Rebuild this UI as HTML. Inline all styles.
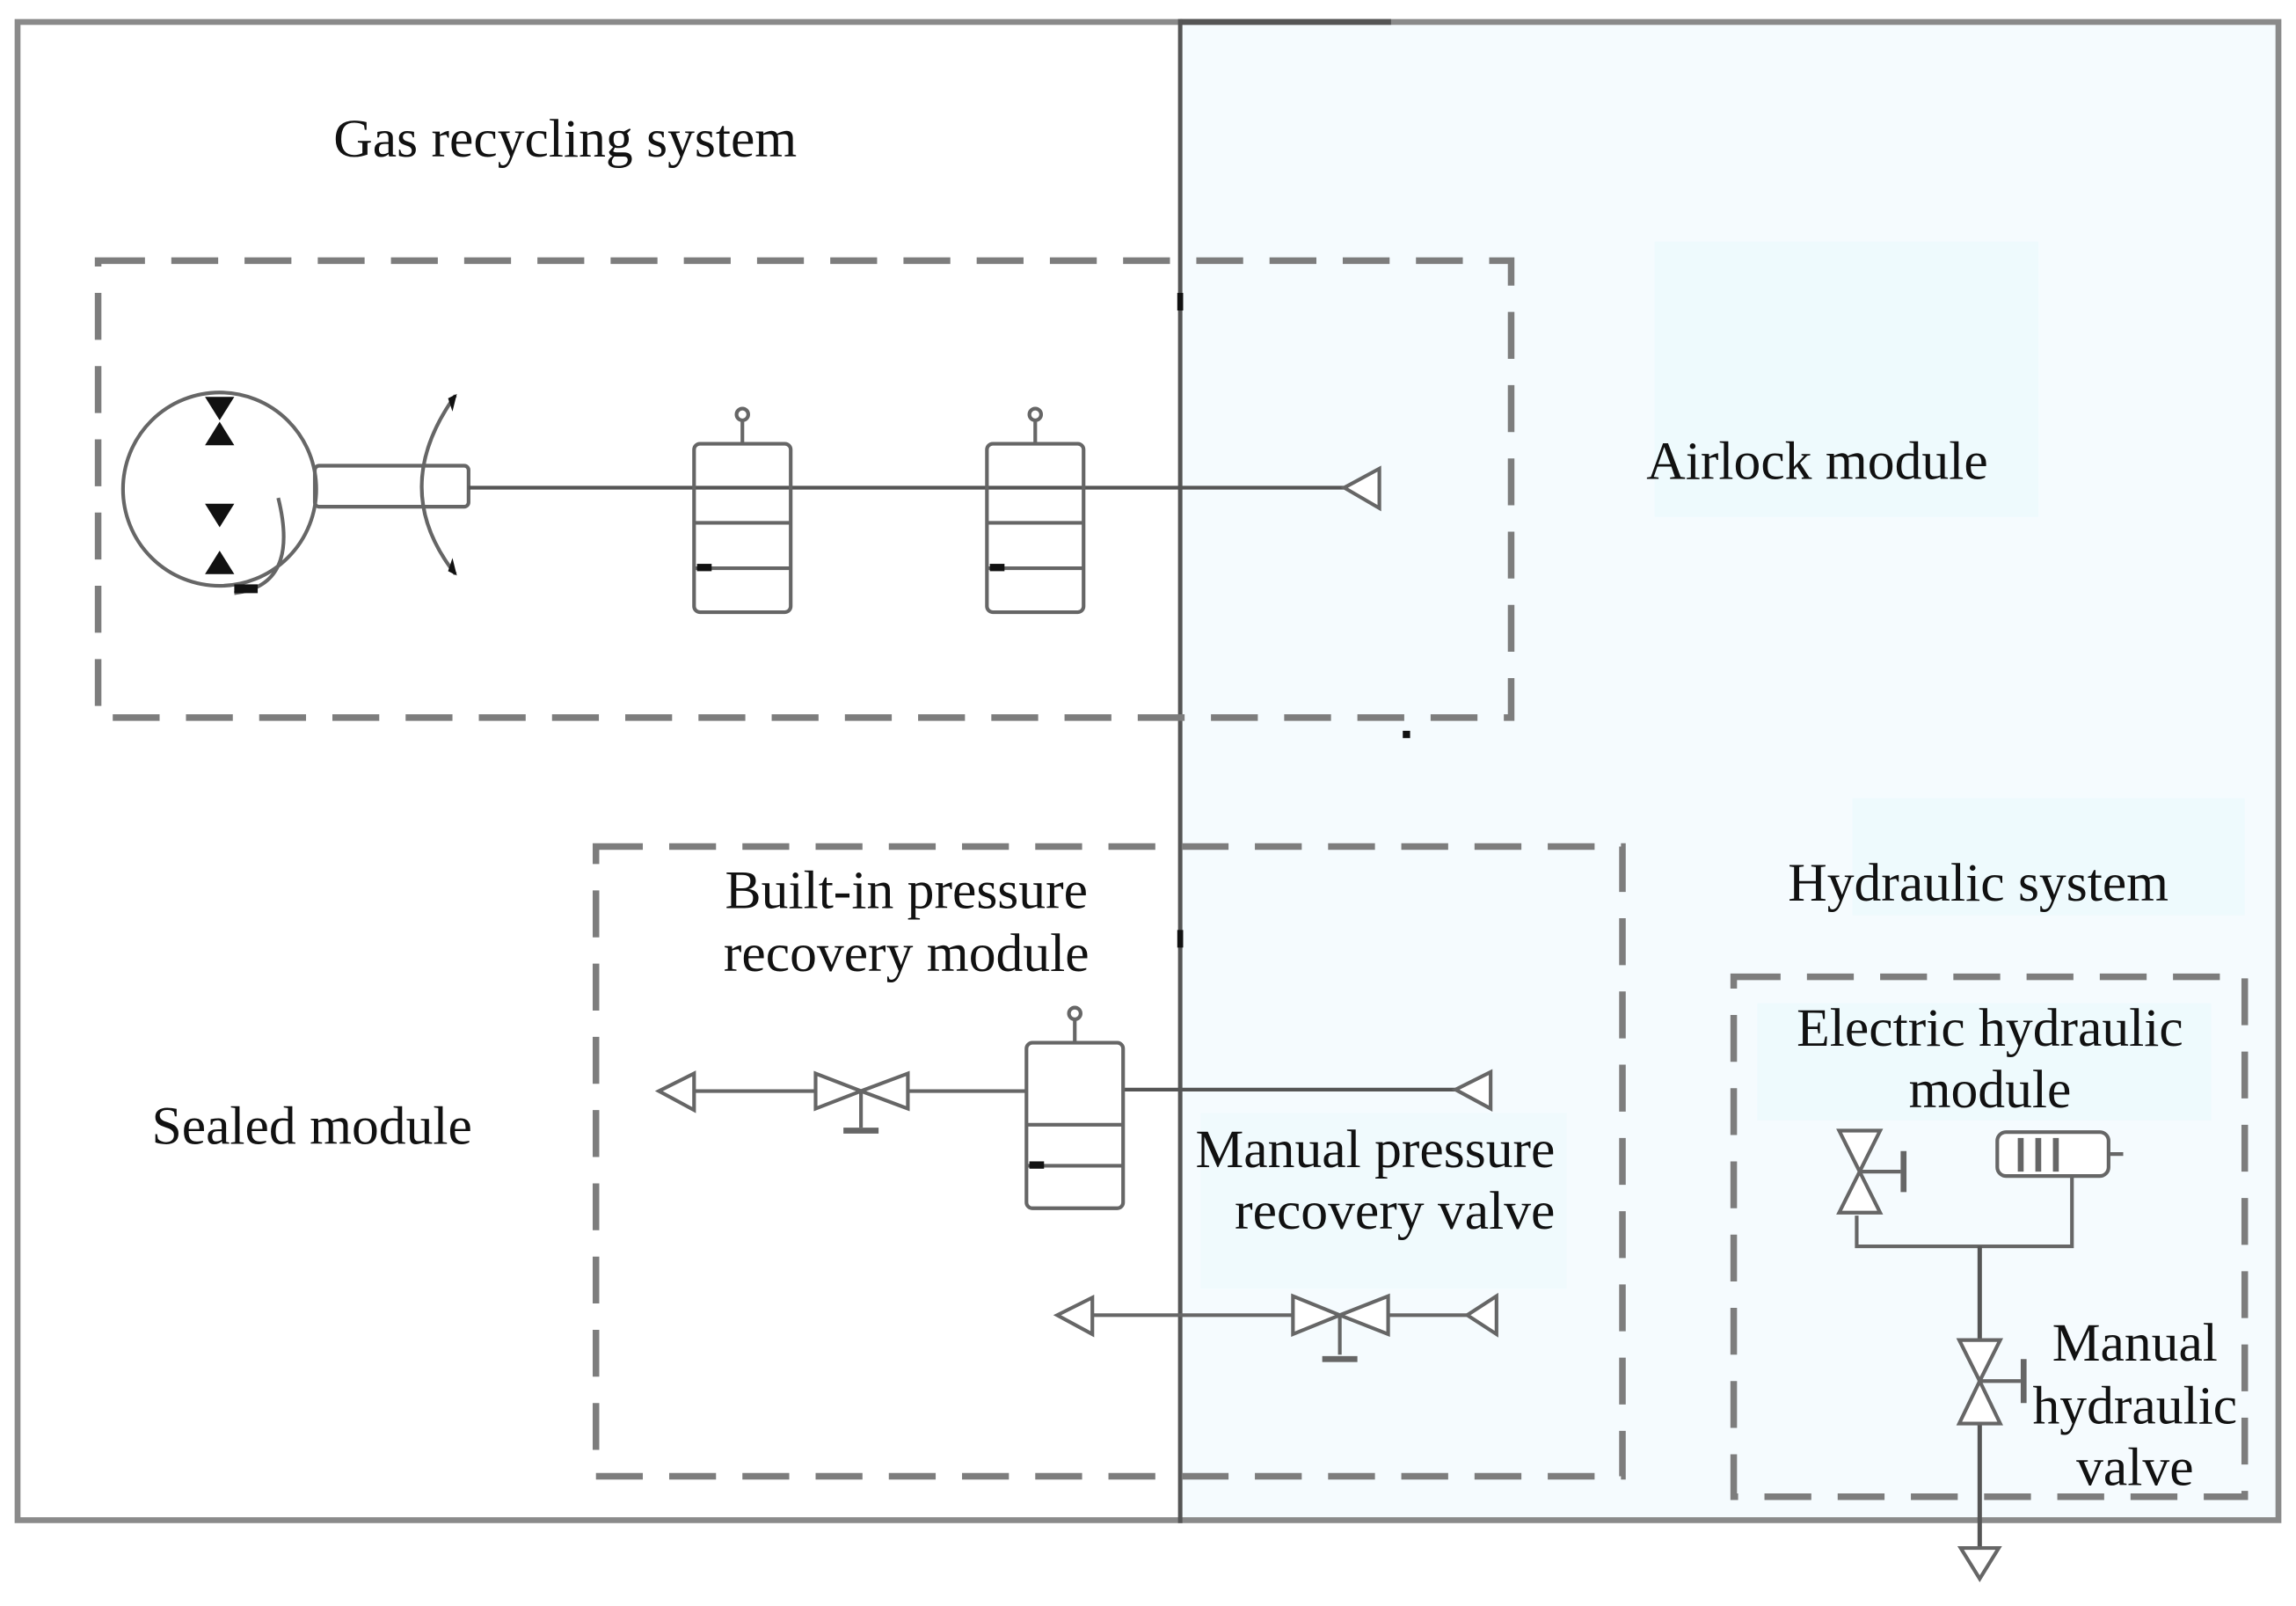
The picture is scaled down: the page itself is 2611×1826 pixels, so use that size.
<!DOCTYPE html>
<html><head><meta charset="utf-8"><style>
html,body{margin:0;padding:0;background:#fff}
svg{display:block}
text{font-family:"Liberation Serif",serif;fill:#111}
</style></head><body>
<svg width="2611" height="1826" viewBox="0 0 1568 1096.6" preserveAspectRatio="none" xmlns="http://www.w3.org/2000/svg">
<rect x="0" y="0" width="1568" height="1097" fill="#fff"/>
<rect x="806" y="15" width="750" height="1023" fill="#f5fbfe"/>
<rect x="1130" y="165" width="262" height="188" fill="#eefafd"/>
<rect x="1265" y="545" width="268" height="80" fill="#eefafd"/>
<rect x="1200" y="685" width="310" height="80" fill="#eefafd"/>
<rect x="820" y="760" width="250" height="120" fill="#f0fafd"/>
<g fill="none" stroke="#8a8a8a" stroke-width="4">
<rect x="12" y="15" width="1544" height="1023"/>
</g>
<line x1="806" y1="15" x2="950" y2="15" stroke="#555" stroke-width="4"/>
<line x1="806" y1="13" x2="806" y2="1040" stroke="#555" stroke-width="3"/>
<g fill="none" stroke="#7d7d7d" stroke-width="4.5" stroke-dasharray="32 18">
<rect x="67" y="178" width="965" height="312"/>
<rect x="407" y="578" width="701" height="430"/>
<rect x="1184" y="667" width="349" height="355"/>
</g>
<g font-size="37">
<text x="386" y="107" text-anchor="middle">Gas recycling system</text>
<text x="1241" y="327" text-anchor="middle">Airlock module</text>
<text x="213" y="781" text-anchor="middle">Sealed module</text>
<text x="619" y="620" text-anchor="middle">Built-in pressure</text>
<text x="619" y="663" text-anchor="middle">recovery module</text>
<text x="1351" y="615" text-anchor="middle">Hydraulic system</text>
<text x="1359" y="714" text-anchor="middle">Electric hydraulic</text>
<text x="1359" y="756" text-anchor="middle">module</text>
<text x="1062" y="797" text-anchor="end">Manual pressure</text>
<text x="1062" y="839" text-anchor="end">recovery valve</text>
<text x="1458" y="929" text-anchor="middle">Manual</text>
<text x="1458" y="972" text-anchor="middle">hydraulic</text>
<text x="1458" y="1014" text-anchor="middle">valve</text>
</g>
<g stroke="#666" stroke-width="2.5" fill="none">
<ellipse cx="150" cy="334" rx="66" ry="66"/>
<rect x="215" y="318" width="105" height="28" rx="3"/>
<path d="M311 270 Q265 334 311 392"/>
<path d="M190 340 Q205 400 160 405"/>
<line x1="320" y1="333" x2="930" y2="333" stroke="#555"/>
<rect x="474" y="303" width="66" height="115" rx="4"/>
<line x1="474" y1="357" x2="540" y2="357"/><line x1="474" y1="388" x2="540" y2="388"/>
<line x1="507" y1="303" x2="507" y2="288"/><circle cx="507" cy="283" r="4"/>
<rect x="674" y="303" width="66" height="115" rx="4"/>
<line x1="674" y1="357" x2="740" y2="357"/><line x1="674" y1="388" x2="740" y2="388"/>
<line x1="707" y1="303" x2="707" y2="288"/><circle cx="707" cy="283" r="4"/>
<path d="M918 333 L942 320 L942 347 Z" fill="#fff"/>
</g>
<g fill="#111">
<path d="M140 271 L160 271 L150 287Z"/><path d="M140 304 L160 304 L150 288Z"/>
<path d="M140 344 L160 344 L150 360Z"/><path d="M140 392 L160 392 L150 376Z"/>
<rect x="160" y="399" width="16" height="6"/>
<path d="M306 272 l6 -3 l-3 12z"/><path d="M306 390 l6 3 l-3 -12z"/>
<rect x="476" y="385" width="10" height="5"/><rect x="676" y="385" width="10" height="5"/>
<rect x="804" y="200" width="4" height="12"/><rect x="958" y="499" width="5" height="5"/>
<rect x="804" y="635" width="4" height="12"/>
</g>
<g stroke="#666" stroke-width="2.5" fill="#fff">
<line x1="460" y1="745" x2="700" y2="745"/>
<line x1="767" y1="744" x2="1005" y2="744" stroke="#555"/>
<path d="M450 745 L474 733 L474 758 Z"/>
<path d="M557 733 L588 745 L557 757 Z"/><path d="M620 733 L588 745 L620 757 Z"/>
<line x1="588" y1="745" x2="588" y2="770"/><line x1="576" y1="772" x2="600" y2="772" stroke-width="4"/>
<rect x="701" y="712" width="66" height="113" rx="4"/>
<line x1="701" y1="768" x2="767" y2="768"/><line x1="701" y1="796" x2="767" y2="796"/>
<line x1="734" y1="712" x2="734" y2="697"/><circle cx="734" cy="692" r="4"/>
<path d="M1018 732 L994 744 L1018 757 Z"/>
<line x1="735" y1="898" x2="1010" y2="898"/>
<path d="M722 898 L746 886 L746 911 Z"/>
<path d="M883 885 L915 898 L883 911 Z"/><path d="M948 885 L915 898 L948 911 Z"/>
<line x1="915" y1="898" x2="915" y2="925"/><line x1="903" y1="928" x2="927" y2="928" stroke-width="4"/>
<path d="M1022 885 L1002 898 L1022 911 Z"/>
</g>
<rect x="703" y="793" width="10" height="5" fill="#111"/>
<g stroke="#666" stroke-width="2.5" fill="#fff">
<polyline points="1268,830 1268,851 1415,851 1415,803" fill="none"/>
<line x1="1352" y1="851" x2="1352" y2="1060" stroke="#555" stroke-width="3"/>
<path d="M1256 772 L1284 772 L1270 800 Z"/><path d="M1256 828 L1284 828 L1270 800 Z"/>
<line x1="1270" y1="800" x2="1298" y2="800"/><line x1="1300" y1="786" x2="1300" y2="814" stroke-width="4"/>
<rect x="1364" y="773" width="76" height="30" rx="6"/>
<line x1="1380" y1="777" x2="1380" y2="800" stroke-width="4"/><line x1="1392" y1="777" x2="1392" y2="800" stroke-width="4"/><line x1="1404" y1="777" x2="1404" y2="800" stroke-width="4"/>
<line x1="1440" y1="788" x2="1450" y2="788"/>
<path d="M1338 915 L1366 915 L1352 943 Z"/><path d="M1338 972 L1366 972 L1352 943 Z"/>
<line x1="1352" y1="943" x2="1380" y2="943"/><line x1="1382" y1="928" x2="1382" y2="958" stroke-width="4"/>
<path d="M1339 1057 L1365 1057 L1352 1078 Z"/>
</g>
</svg>
</body></html>
